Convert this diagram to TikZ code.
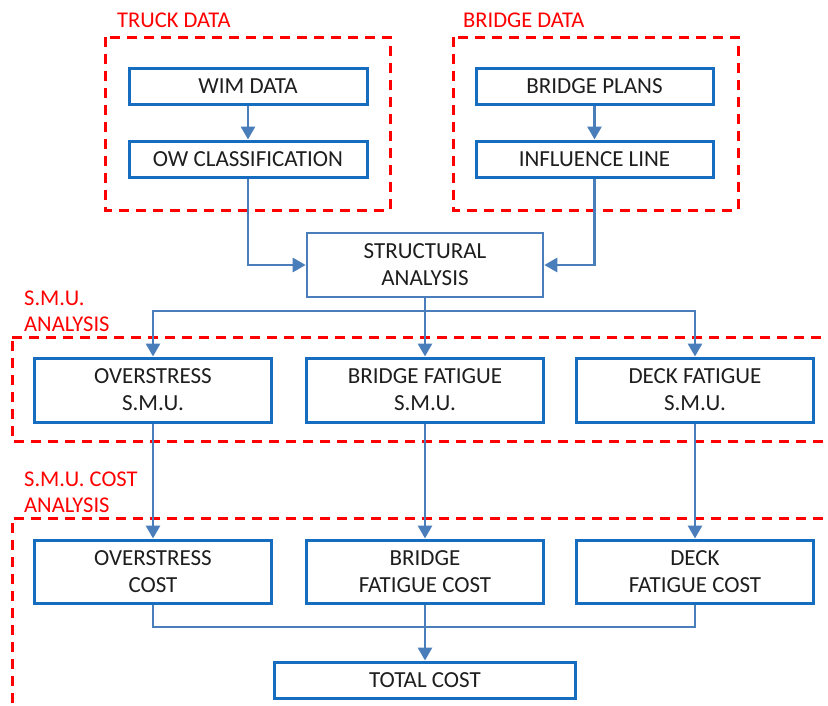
\documentclass[tikz,border=0pt]{standalone}
\usepackage{fontspec}
\setmainfont{Carlito}
\usetikzlibrary{arrows.meta}
\definecolor{boxblue}{RGB}{22,108,190}
\definecolor{lineblue}{RGB}{74,126,187}
\definecolor{txt}{RGB}{30,30,30}
\tikzset{
  box/.style={draw=boxblue, line width=3pt, fill=white, text=txt, align=center, inner sep=0pt,
    font=\fontsize{23}{27}\selectfont},
  sbox/.style={box, draw=lineblue, line width=2.6pt},
  conn/.style={draw=lineblue, line width=2.8pt},
  arr/.style={conn, -{Triangle[length=13pt,width=14pt]}},
  grp/.style={draw=red, line width=3pt, dash pattern=on 10pt off 7pt},
  glabel/.style={text=red, anchor=west, align=left, inner sep=0pt, font=\fontsize{22.5}{26}\selectfont}
}
\begin{document}
\begin{tikzpicture}[x=1pt,y=-1pt]
\useasboundingbox (0,0) rectangle (828,705);
% groups
\draw[grp] (105,37) rectangle (390,210);
\draw[grp] (453,37) rectangle (738,210);
\draw[grp] (12,337) -- (840,337) (840,441) -- (12,441) -- (12,337);
\draw[grp] (840,518) -- (12,518) -- (12,720);
\node[glabel] (lt) at (117,20) {TRUCK DATA};
\node[glabel] (lb) at (463,20) {BRIDGE DATA};
\node[glabel] (ls) at (24,311) {S.M.U.\\ANALYSIS};
\node[glabel] (lc) at (24,492) {S.M.U. COST\\ANALYSIS};
% nodes
\node[box, minimum width=238pt, minimum height=36pt] (wim) at (248,86) {WIM DATA};
\node[box, minimum width=238pt, minimum height=36pt] (ow) at (248,159) {OW CLASSIFICATION};
\node[box, minimum width=237pt, minimum height=36pt] (plans) at (594.5,86) {BRIDGE PLANS};
\node[box, minimum width=237pt, minimum height=36pt] (infl) at (594.5,159) {INFLUENCE LINE};
\node[sbox, minimum width=236pt, minimum height=64pt] (struct) at (425,265) {STRUCTURAL\\ANALYSIS};
\node[box, minimum width=237pt, minimum height=64pt] (smu1) at (153,390) {OVERSTRESS\\S.M.U.};
\node[box, minimum width=237pt, minimum height=64pt] (smu2) at (425,390) {BRIDGE FATIGUE\\S.M.U.};
\node[box, minimum width=237pt, minimum height=64pt] (smu3) at (695,390) {DECK FATIGUE\\S.M.U.};
\node[box, minimum width=237pt, minimum height=63pt] (cost1) at (153,571.5) {OVERSTRESS\\COST};
\node[box, minimum width=237pt, minimum height=63pt] (cost2) at (425,571.5) {BRIDGE\\FATIGUE COST};
\node[box, minimum width=237pt, minimum height=63pt] (cost3) at (695,571.5) {DECK\\FATIGUE COST};
\node[box, minimum width=301pt, minimum height=36pt] (total) at (425,680) {TOTAL COST};
% connectors
\draw[arr] (wim.south) -- (ow.north);
\draw[arr] (plans.south) -- (infl.north);
\draw[arr] (ow.south) |- (struct.west);
\draw[arr] (infl.south) |- (struct.east);
\coordinate (br) at (425,311);
\draw[conn] (struct.south) -- (br);
\draw[arr] (br) -| (smu1.north);
\draw[arr] (br) -- (smu2.north);
\draw[arr] (br) -| (smu3.north);
\draw[arr] (smu1.south) -- (cost1.north);
\draw[arr] (smu2.south) -- (cost2.north);
\draw[arr] (smu3.south) -- (cost3.north);
\coordinate (jn) at (425,627);
\draw[conn] (cost1.south) |- (jn);
\draw[conn] (cost3.south) |- (jn);
\draw[arr] (cost2.south) -- (total.north);
\end{tikzpicture}
\end{document}
